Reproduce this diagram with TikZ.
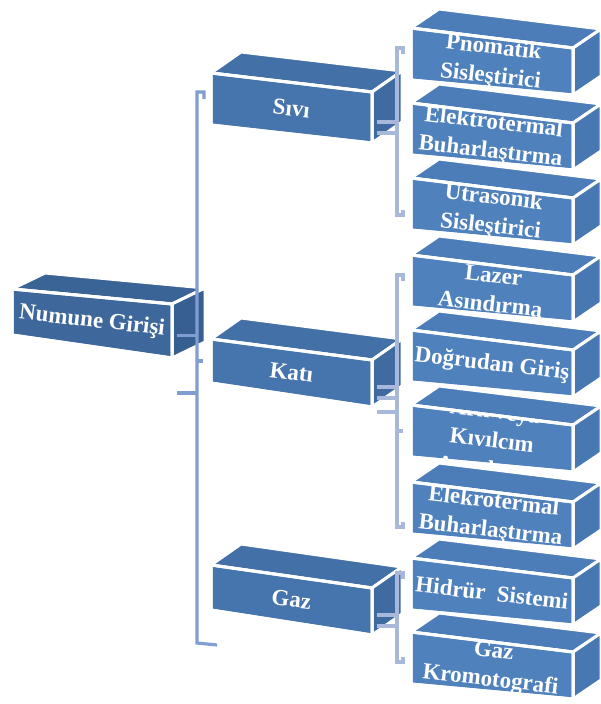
\documentclass[tikz,border=0pt]{standalone}
\usepackage{fontspec}
\setmainfont{Liberation Serif}
\usetikzlibrary{calc}

% face colours per level
\definecolor{roottop}{RGB}{58,99,150}
\definecolor{rootfront}{RGB}{62,104,156}
\definecolor{rootside}{RGB}{55,95,145}
\definecolor{midtop}{RGB}{67,112,167}
\definecolor{midfront}{RGB}{70,116,172}
\definecolor{midside}{RGB}{63,107,160}
\definecolor{leaftop}{RGB}{76,125,184}
\definecolor{leaffront}{RGB}{79,129,189}
\definecolor{leafside}{RGB}{72,120,178}
\definecolor{rootlink}{RGB}{128,158,210}
\definecolor{leaflink}{RGB}{168,184,218}

\tikzset{
  face/.style={draw=white, line width=3pt, line join=round},
  boxtext/.style={text=white, font=\fontsize{23}{29}\selectfont\bfseries,
    align=center, rotate=-6.5, inner sep=0pt},
  link1/.style={draw=rootlink, line width=3.2pt},
  link2/.style={draw=leaflink, line width=4pt},
}

% A slanted block: #1 name, #2 left x, #3 top y, #4 width, #5 drop of the top edge,
% #6 left height, #7 right height, #8 colour set, #9 text.
% Depth of the block is taken from \slabDx / \slabDy.
\newcommand\slab[9]{%
  \pgfmathsetmacro\slabXr{#2+#4}%
  \pgfmathsetmacro\slabYt{#3+#5}%
  \pgfmathsetmacro\slabYb{#3+#6}%
  \pgfmathsetmacro\slabYbr{#3+#5+#7}%
  \pgfmathsetmacro\slabCx{#2+#4/2}%
  \pgfmathsetmacro\slabCy{#3+#5/2+(#6+#7)/4}%
  \path[face, fill=#8top] (#2,#3) -- (#2+\slabDx,#3-\slabDy)
    -- (\slabXr+\slabDx,\slabYt-\slabDy) -- (\slabXr,\slabYt) -- cycle;
  \path[face, fill=#8side] (\slabXr,\slabYt) -- (\slabXr+\slabDx,\slabYt-\slabDy)
    -- (\slabXr+\slabDx,\slabYbr-\slabDy) -- (\slabXr,\slabYbr) -- cycle;
  \path[face, fill=#8front] (#2,#3) -- (\slabXr,\slabYt) -- (\slabXr,\slabYbr)
    -- (#2,\slabYb) -- cycle;
  \begin{scope}
    \clip (#2,#3) -- (\slabXr,\slabYt) -- (\slabXr,\slabYbr) -- (#2,\slabYb) -- cycle;
    \node[boxtext] (#1) at (\slabCx,\slabCy) {#9};
  \end{scope}
  \path[draw=white, line width=3pt, line join=round] (#2,#3) -- (\slabXr,\slabYt)
    -- (\slabXr,\slabYbr) -- (#2,\slabYb) -- cycle;
  \coordinate (#1-e) at (\slabXr+5,\slabYt+0.58*#7);
  \coordinate (#1-e2) at (\slabXr+5,\slabYt+0.8*#7);
  \coordinate (#1-e3) at (\slabXr+5,\slabYbr+5);
  \coordinate (#1-w) at (#2,#3+#6/2);
}

\begin{document}
\begin{tikzpicture}[x=1pt,y=-1pt]
\fill[white] (0,0) rectangle (601,704);
\useasboundingbox (0,0) rectangle (601,704);

% root
\def\slabDx{33}\def\slabDy{16}
\slab{root}{12}{289}{160}{15}{46}{54}{root}{Numune Girişi}

% second level
\def\slabDx{30}\def\slabDy{21}
\slab{sivi}{211}{73}{161}{19}{52}{51}{mid}{Sıvı}
\slab{kati}{211}{339}{161}{21}{44}{47}{mid}{Katı}
\slab{gaz}{211}{565}{161}{23}{45}{47}{mid}{Gaz}

% leaves
\def\slabDx{28}\def\slabDy{19}
\slab{pnomatik}{411}{28}{162}{20}{52}{47}{leaf}{Pnomatik\\Sisleştirici}
\slab{etb1}{411}{103}{162}{20}{52}{47}{leaf}{Elektrotermal\\Buharlaştırma}
\slab{utrasonik}{411}{178}{162}{20}{52}{47}{leaf}{Utrasonik\\Sisleştirici}
\slab{lazer}{411}{255}{162}{20}{52}{47}{leaf}{Lazer\\Asındırma}
\slab{dogrudan}{411}{330}{162}{20}{52}{47}{leaf}{Doğrudan Giriş}
\slab{ark}{411}{405}{162}{20}{52}{47}{leaf}{Ark veya\\Kıvılcım\\Asındırma}
\slab{etb2}{411}{482}{162}{20}{52}{47}{leaf}{Elekrotermal\\Buharlaştırma}
\slab{hidrur}{411}{558}{162}{20}{52}{47}{leaf}{Hidrür~~Sistemi}
\slab{kromo}{411}{632}{162}{20}{52}{47}{leaf}{Gaz\\Kromotografi}

% root bracket
\coordinate (trunkTop) at (197,92);
\coordinate (trunkBot) at (197,643);
\coordinate (trunkHook) at (177,393);
\draw[link1] (204,99) -- (204,92) -- (trunkTop) -- (trunkBot) -- (217,645);
\draw[link1] (root-e) -- (root-e -| trunkTop);
\draw[link1] (trunkTop |- kati-w) -- ++(6,0);
\draw[link1] (trunkHook) -- (trunkHook -| trunkTop);

% liquid bracket
\coordinate (siviTop) at (397,48);
\coordinate (siviBot) at (397,215);
\draw[link2] (403,54) -- (403,48) -- (siviTop) -- (siviBot) -- (403,215) -- (403,210);
\draw[link2] (sivi-e) -- (sivi-e -| siviTop);
\draw[link2] (sivi-e2) -- (sivi-e2 -| siviTop);

% solid bracket
\coordinate (katiTop) at (397,275);
\coordinate (katiBot) at (397,527);
\draw[link2] (403,281) -- (403,275) -- (katiTop) -- (katiBot) -- (403,527) -- (403,522);
\draw[link2] (katiTop |- ark-w) -- ++(6,0);
\draw[link2] (kati-e) -- (kati-e -| katiTop);
\draw[link2] (kati-e2) -- (kati-e2 -| katiTop);
\draw[link2] (kati-e3) -- (kati-e3 -| katiTop);

% gas bracket
\coordinate (gazTop) at (397,573);
\coordinate (gazBot) at (397,662);
\draw[link2] (403,579) -- (403,573) -- (gazTop) -- (gazBot) -- (403,662) -- (403,657);
\draw[link2] (gaz-e) -- (gaz-e -| gazTop);
\draw[link2] (gaz-e2) -- (gaz-e2 -| gazTop);
\end{tikzpicture}
\end{document}
